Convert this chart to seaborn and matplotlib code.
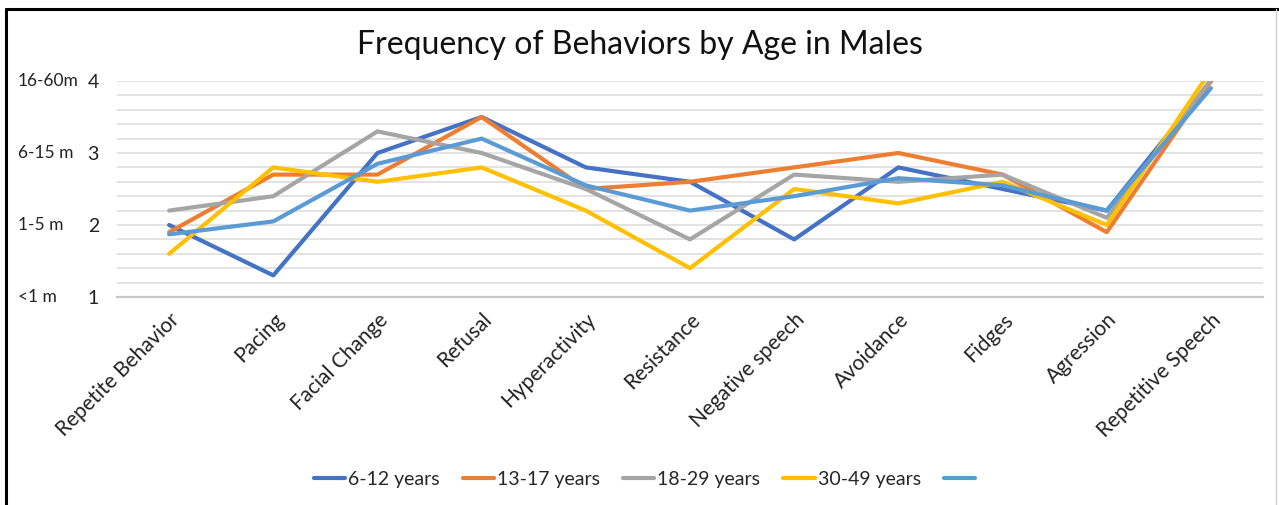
import pandas as pd
import numpy as np
import matplotlib
matplotlib.use("Agg")
import matplotlib.pyplot as plt
import seaborn as sns
from matplotlib.ticker import MultipleLocator
from matplotlib.lines import Line2D


# Behaviours on the x axis (spelling as in the original chart)
behaviors = ["Repetite Behavior", "Pacing", "Facial Change", "Refusal", "Hyperactivity",
             "Resistance", "Negative speech", "Avoidance", "Fidges", "Agression",
             "Repetitive Speech"]

# One series per age group (scale 1-4)
age_6_12 = [2.0, 1.3, 3.0, 3.5, 2.8, 2.6, 1.8, 2.8, 2.5, 2.2, 4.0]
age_13_17 = [1.9, 2.7, 2.7, 3.5, 2.5, 2.6, 2.8, 3.0, 2.7, 1.9, 4.0]
age_18_29 = [2.2, 2.4, 3.3, 3.0, 2.5, 1.8, 2.7, 2.6, 2.7, 2.1, 4.02]
age_30_49 = [1.6, 2.8, 2.6, 2.8, 2.2, 1.4, 2.5, 2.3, 2.6, 2.0, 4.15]
age_unnamed = [1.87, 2.05, 2.85, 3.2, 2.55, 2.2, 2.4, 2.65, 2.55, 2.2, 3.9]

series_keys = ["s1", "s2", "s3", "s4", "s5"]
series_labels = ["6-12 years", "13-17 years", "18-29 years", "30-49 years", ""]
series_values = [age_6_12, age_13_17, age_18_29, age_30_49, age_unnamed]
colors = ["#4472C4", "#ED7D31", "#A5A5A5", "#FFC000", "#5B9BD5"]

# y ticks and the age-in-months text next to them
y_ticks = [1, 2, 3, 4]
y_tick_labels = ["1", "2", "3", "4"]
month_labels = ["<1 m", "1-5 m", "6-15 m", "16-60m"]


def build_frame():
    rows = []
    for key, vals in zip(series_keys, series_values):
        for b, v in zip(behaviors, vals):
            rows.append({"Behavior": b, "Score": v, "Age": key})
    return pd.DataFrame(rows)


def main():
    df = build_frame()

    sns.set_theme(style="white")
    plt.rcParams["font.family"] = ["Lato", "DejaVu Sans"]

    fig = plt.figure(figsize=(12.79, 5.05), dpi=100)
    ax = fig.add_axes([0.0915, 0.4119, 0.896, 0.4277])

    sns.lineplot(data=df, x="Behavior", y="Score", hue="Age", hue_order=series_keys,
                 palette=colors, sort=False, linewidth=3.0, legend=False, ax=ax)

    ax.set_xlim(-0.5, len(behaviors) - 0.5)
    ax.set_ylim(1, 4)
    ax.set_xlabel("")
    ax.set_ylabel("")

    # gridlines every 0.2
    ax.yaxis.set_minor_locator(MultipleLocator(0.2))
    ax.set_yticks(y_ticks)
    ax.set_yticklabels(y_tick_labels, fontsize=14, color="#222222")
    ax.grid(True, axis="y", which="both", color="#E3E3E3", linewidth=1.4)
    ax.set_axisbelow(True)
    ax.tick_params(axis="y", which="both", length=0, pad=13)
    ax.tick_params(axis="x", length=0, pad=9)

    for side in ["top", "right", "left"]:
        ax.spines[side].set_visible(False)
    ax.spines["bottom"].set_color("#C8C8C8")
    ax.spines["bottom"].set_linewidth(1.6)

    plt.setp(ax.get_xticklabels(), rotation=45, ha="right", rotation_mode="anchor",
             fontsize=15, color="#222222")

    # age-in-months labels at the far left
    trans = matplotlib.transforms.blended_transform_factory(fig.transFigure, ax.transData)
    for y, lab in zip(y_ticks, month_labels):
        ax.text(0.014, y, lab, transform=trans, ha="left", va="center",
                fontsize=12.5, color="#222222")

    fig.suptitle("Frequency of Behaviors by Age in Males", fontsize=23, y=0.94,
                 color="#111111")

    handles = [Line2D([0], [0], color=c, linewidth=3.0) for c in colors]
    fig.legend(handles, series_labels, loc="center", bbox_to_anchor=(0.505, 0.05),
               ncol=5, frameon=False, fontsize=14, handlelength=1.6, handletextpad=0.15,
               columnspacing=1.2)

    # outer frame (left and top are black in the original)
    fig.add_artist(Line2D([0.005, 0.005], [0.0, 0.983], color="black", linewidth=2.2,
                          transform=fig.transFigure))
    fig.add_artist(Line2D([0.005, 0.999], [0.983, 0.983], color="black", linewidth=2.2,
                          transform=fig.transFigure))
    fig.add_artist(Line2D([0.998, 0.998], [0.0, 0.983], color="#D0D0D0", linewidth=1.0,
                          transform=fig.transFigure))

    fig.savefig("out.png", dpi=100)


if __name__ == "__main__":
    main()
